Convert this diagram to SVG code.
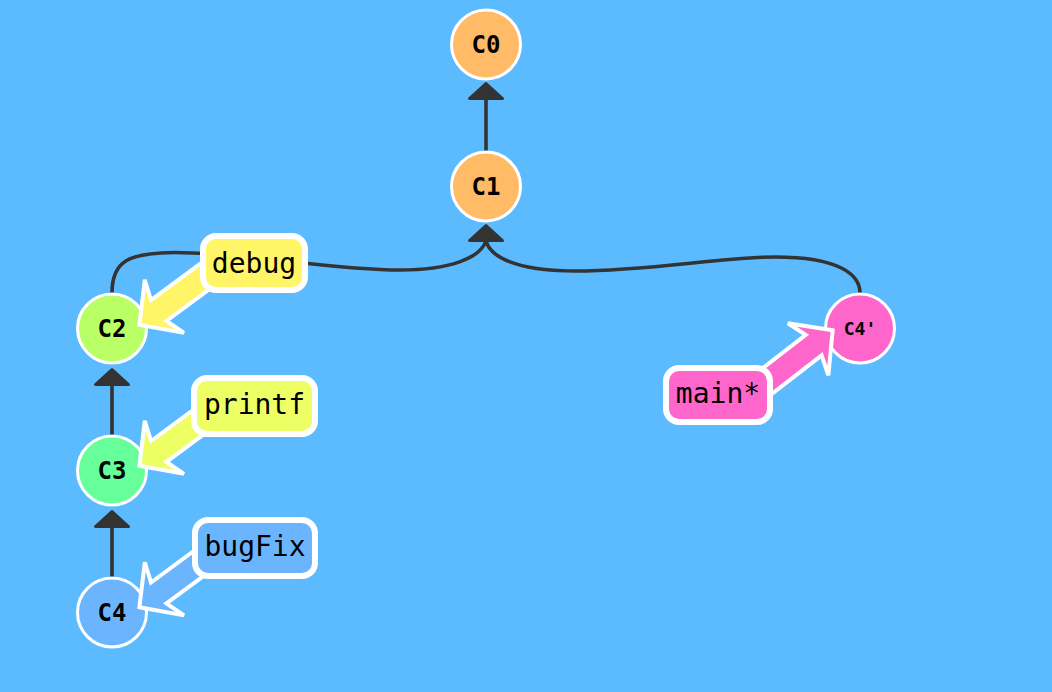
<svg xmlns="http://www.w3.org/2000/svg" width="1052" height="692" viewBox="0 0 1052 692">
  <defs>
    <style>
      .edge { fill: none; stroke: #333333; stroke-width: 3.6; }
      .head { fill: #333333; stroke: #333333; stroke-width: 3; stroke-linejoin: round; }
      .node circle { stroke: #ffffff; stroke-width: 3; }
      .node text { font-family: "DejaVu Sans Mono", "Liberation Mono", monospace; font-weight: bold; font-size: 24px; text-anchor: middle; fill: #000000; }
      .label rect { stroke: #ffffff; stroke-width: 6; }
      .label text { font-family: "DejaVu Sans Mono", "Liberation Mono", monospace; font-size: 28px; text-anchor: middle; fill: #000000; }
    </style>
    <polygon id="pointer" points="-3,0 -34,-33 -27,-13 -110,-13 -110,13 -27,13 -34,33"/>
  </defs>

  <rect x="0" y="0" width="1052" height="692" fill="#5cbbff"/>

  <g id="connectors">
    <line class="edge" x1="486" y1="151" x2="486" y2="98"/>
    <polygon class="head" points="486,83.5 469.5,98.5 502.5,98.5"/>
    <path class="edge" d="M112,293 C112,260 130,253 175,252.5 C250,253 330,270 400,270 C450,270 480,258 486,241"/>
    <path class="edge" d="M860,293 C860,275 840,257 775,257 C720,257 650,271 575,271 C530,271 492,262 486,241"/>
    <polygon class="head" points="486,225.5 469.5,240.5 502.5,240.5"/>
    <line class="edge" x1="112" y1="435" x2="112" y2="382"/>
    <polygon class="head" points="112,369.5 95.5,384.5 128.5,384.5"/>
    <line class="edge" x1="112" y1="577" x2="112" y2="524"/>
    <polygon class="head" points="112,511.5 95.5,526.5 128.5,526.5"/>
  </g>

  <g id="C0" class="node">
    <circle cx="486" cy="44.5" r="34.5" fill="#ffbb66"/>
    <text x="486" y="53">C0</text>
  </g>
  <g id="C1" class="node">
    <circle cx="486" cy="186.5" r="34.5" fill="#ffbb66"/>
    <text x="486" y="195">C1</text>
  </g>
  <g id="C2" class="node">
    <circle cx="112" cy="328.5" r="34.5" fill="#bbff66"/>
    <text x="112" y="337">C2</text>
  </g>
  <g id="C3" class="node">
    <circle cx="112" cy="470.5" r="34.5" fill="#66ff99"/>
    <text x="112" y="479">C3</text>
  </g>
  <g id="C4" class="node">
    <circle cx="112" cy="612.5" r="34.5" fill="#6bb5ff"/>
    <text x="112" y="621">C4</text>
  </g>
  <g id="C4prime" class="node">
    <circle cx="860" cy="328.5" r="34.5" fill="#ff66cc"/>
    <text x="860" y="335" style="font-size:18px">C4'</text>
  </g>

  <g id="debug" class="label">
    <use href="#pointer" transform="translate(137,326.5) rotate(143.6)" fill="#fff566" stroke="#ffffff" stroke-width="4"/>
    <rect x="203" y="236" width="102" height="54" rx="13" fill="#fff566"/>
    <text x="254" y="273">debug</text>
  </g>
  <g id="printf" class="label">
    <use href="#pointer" transform="translate(137,467.5) rotate(143.6)" fill="#eeff66" stroke="#ffffff" stroke-width="4"/>
    <rect x="194" y="378" width="121" height="56" rx="13" fill="#eeff66"/>
    <text x="254.5" y="414">printf</text>
  </g>
  <g id="bugFix" class="label">
    <use href="#pointer" transform="translate(137,609) rotate(143.6)" fill="#6bb5ff" stroke="#ffffff" stroke-width="4"/>
    <rect x="195" y="520" width="120" height="56" rx="13" fill="#6bb5ff"/>
    <text x="255" y="556">bugFix</text>
  </g>
  <g id="main" class="label">
    <use href="#pointer" transform="translate(835,328.5) rotate(-37.8)" fill="#ff66cc" stroke="#ffffff" stroke-width="4"/>
    <rect x="666" y="368" width="104" height="54" rx="13" fill="#ff66cc"/>
    <text x="718" y="403">main*</text>
  </g>
</svg>
